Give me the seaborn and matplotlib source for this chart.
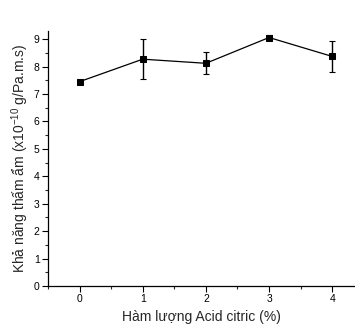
import matplotlib
matplotlib.use("Agg")
import matplotlib.pyplot as plt
from matplotlib.ticker import MultipleLocator
import seaborn as sns
import pandas as pd

# Acid citric content (%) and water vapour permeability (x1e-10 g/Pa.m.s)
acid_citric = [0, 1, 2, 3, 4]
permeability = [7.45, 8.27, 8.12, 9.06, 8.37]
permeability_err = [0.05, 0.72, 0.40, 0.08, 0.58]

df = pd.DataFrame({"acid": acid_citric, "wvp": permeability, "err": permeability_err})

sns.set_style("ticks")
plt.rcParams["font.family"] = ["Liberation Sans", "DejaVu Sans"]
plt.rcParams["mathtext.fontset"] = "custom"
plt.rcParams["mathtext.rm"] = "Liberation Sans"

fig = plt.figure(figsize=(3.55, 3.27), dpi=100)
ax = fig.add_axes([0.135, 0.1254, 0.865, 0.78])

ax.errorbar(df["acid"], df["wvp"], yerr=df["err"], fmt="none",
            ecolor="black", elinewidth=1.0, capsize=2.5, capthick=0.8, zorder=2)
sns.lineplot(data=df, x="acid", y="wvp", ax=ax, color="black", linewidth=0.9,
             marker="s", markersize=5, markeredgecolor="black", zorder=3)

ax.set_xlim(-0.5, 4.36)
ax.set_ylim(0, 9.3)
ax.xaxis.set_major_locator(MultipleLocator(1))
ax.xaxis.set_minor_locator(MultipleLocator(0.5))
ax.yaxis.set_major_locator(MultipleLocator(1))
ax.yaxis.set_minor_locator(MultipleLocator(0.5))

ax.tick_params(which="major", direction="out", length=4, width=0.8,
               labelsize=7.5, pad=2, colors="black")
ax.tick_params(which="minor", direction="out", length=2, width=0.8)

sns.despine(ax=ax)
for side in ("left", "bottom"):
    ax.spines[side].set_linewidth(0.9)
    ax.spines[side].set_color("black")

ax.set_xlabel("Hàm lượng Acid citric (%)", fontsize=10, labelpad=4)
ax.set_ylabel(r"Khả năng thấm ẩm (x10$^{-10}$ g/Pa.m.s)", fontsize=10, labelpad=2)

fig.savefig("out.png", dpi=100)
